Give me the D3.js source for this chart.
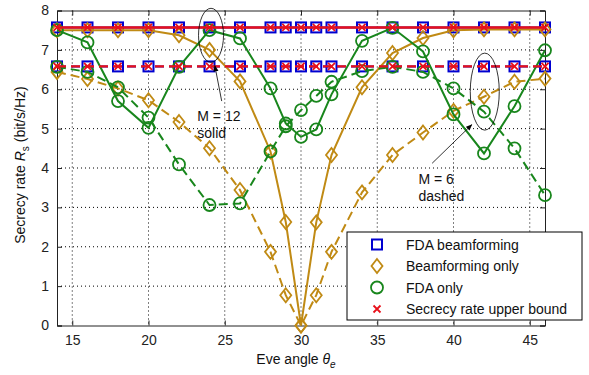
<!DOCTYPE html>
<html>
<head>
<meta charset="utf-8">
<script src="https://cdn.jsdelivr.net/npm/d3@7"></script>
<style>
  html, body { margin: 0; padding: 0; background: #fff; }
  svg { display: block; font-family: "Liberation Sans", Arial, sans-serif; }
</style>
</head>
<body>
<div id="chart"></div>
<script>
// Eve angle samples (degrees)
const theta = [14, 16, 18, 20, 22, 24, 26, 28, 29, 30, 31, 32, 34, 36, 38, 40, 42, 44, 46];

// M = 12 (solid) series
const fdaBeam12 = [7.57, 7.57, 7.57, 7.57, 7.57, 7.57, 7.57, 7.57, 7.57, 7.57, 7.57, 7.57, 7.57, 7.57, 7.57, 7.57, 7.57, 7.57, 7.57];
const bfOnly12 = [7.5, 7.5, 7.5, 7.5, 7.37, 7.0, 6.2, 4.42, 2.63, 0, 2.62, 4.33, 6.05, 6.92, 7.3, 7.5, 7.52, 7.52, 7.52];
const fdaOnly12 = [7.5, 7.19, 5.7, 5.02, 6.57, 7.5, 7.29, 6.02, 5.13, 4.79, 4.98, 5.87, 7.23, 7.56, 6.96, 5.36, 4.37, 5.57, 6.99];
const upper12 = [7.57, 7.57, 7.57, 7.57, 7.57, 7.57, 7.57, 7.57, 7.57, 7.57, 7.57, 7.57, 7.57, 7.57, 7.57, 7.57, 7.57, 7.57, 7.57];

// M = 6 (dashed) series
const fdaBeam6 = [6.58, 6.58, 6.58, 6.58, 6.58, 6.58, 6.58, 6.58, 6.58, 6.58, 6.58, 6.58, 6.58, 6.58, 6.58, 6.58, 6.58, 6.58, 6.58];
const bfOnly6 = [6.44, 6.26, 6.02, 5.72, 5.17, 4.5, 3.44, 1.87, 0.77, 0, 0.77, 1.87, 3.38, 4.33, 4.9, 5.45, 5.81, 6.19, 6.27];
const fdaOnly6 = [6.57, 6.44, 6.05, 5.28, 4.09, 3.06, 3.1, 4.42, 5.06, 5.47, 5.83, 6.19, 6.46, 6.57, 6.44, 6.02, 5.43, 4.5, 3.31];
const upper6 = [6.58, 6.58, 6.58, 6.58, 6.58, 6.58, 6.58, 6.58, 6.58, 6.58, 6.58, 6.58, 6.58, 6.58, 6.58, 6.58, 6.58, 6.58, 6.58];

const xTicks = [15, 20, 25, 30, 35, 40, 45];
const yTicks = [0, 1, 2, 3, 4, 5, 6, 7, 8];
const legendLabels = ['FDA beamforming', 'Beamforming only', 'FDA only', 'Secrecy rate upper bound'];

const BLUE = '#0000d0', GOLD = '#c08a14', GREEN = '#18861c', RED = '#e8101a';

const W = 589, H = 375;
const margin = { top: 10.5, right: 44, bottom: 49.5, left: 57 };
const width = W - margin.left - margin.right;
const height = H - margin.top - margin.bottom;

const svg = d3.select('#chart').append('svg').attr('width', W).attr('height', H);
const g = svg.append('g').attr('transform', `translate(${margin.left},${margin.top})`);

const x = d3.scaleLinear().domain([14, 46]).range([0, width]);
const y = d3.scaleLinear().domain([0, 8]).range([height, 0]);

// dotted grid
g.append('g').selectAll('line').data(xTicks).join('line')
  .attr('x1', d => x(d)).attr('x2', d => x(d)).attr('y1', 0).attr('y2', height)
  .attr('stroke', '#000').attr('stroke-width', 1).attr('stroke-dasharray', '1,3');
g.append('g').selectAll('line').data(yTicks.filter(d => d > 0 && d < 8)).join('line')
  .attr('x1', 0).attr('x2', width).attr('y1', d => y(d)).attr('y2', d => y(d))
  .attr('stroke', '#000').attr('stroke-width', 1).attr('stroke-dasharray', '1,3');

// axes (ticks pointing inward)
const xAxis = g.append('g').attr('transform', `translate(0,${height})`)
  .call(d3.axisBottom(x).tickValues(xTicks).tickSize(-5).tickPadding(10));
const yAxis = g.append('g')
  .call(d3.axisLeft(y).tickValues(yTicks).tickSize(-5).tickPadding(8));
const xTop = g.append('g').call(d3.axisTop(x).tickValues(xTicks).tickSize(-5).tickFormat(''));
const yRight = g.append('g').attr('transform', `translate(${width},0)`)
  .call(d3.axisRight(y).tickValues(yTicks).tickSize(-5).tickFormat(''));
[xAxis, yAxis, xTop, yRight].forEach(a => {
  a.select('.domain').attr('stroke', '#222').attr('stroke-width', 1);
  a.selectAll('.tick line').attr('stroke', '#222');
  a.selectAll('text').attr('fill', '#222').style('font-size', '14px');
});

const line = d3.line().x(d => x(d[0])).y(d => y(d[1]));
const pts = vals => theta.map((t, i) => [t, vals[i]]);

function drawSeries(vals, color, dashed, marker, lw = 2) {
  const data = pts(vals);
  g.append('path').datum(data).attr('d', line)
    .attr('fill', 'none').attr('stroke', color).attr('stroke-width', lw)
    .attr('stroke-dasharray', dashed ? '9,5' : null);
  drawMarkers(g, data.map(d => [x(d[0]), y(d[1])]), color, marker);
}

function drawMarkers(parent, coords, color, marker) {
  const sel = parent.append('g');
  coords.forEach(([cx, cy]) => {
    if (marker === 'square') {
      sel.append('rect').attr('x', cx - 5).attr('y', cy - 5).attr('width', 10).attr('height', 10)
        .attr('fill', 'none').attr('stroke', color).attr('stroke-width', 2);
    } else if (marker === 'diamond') {
      sel.append('path').attr('d', `M${cx},${cy - 7}L${cx + 5.5},${cy}L${cx},${cy + 7}L${cx - 5.5},${cy}Z`)
        .attr('fill', 'none').attr('stroke', color).attr('stroke-width', 1.8);
    } else if (marker === 'circle') {
      sel.append('circle').attr('cx', cx).attr('cy', cy).attr('r', 6)
        .attr('fill', 'none').attr('stroke', color).attr('stroke-width', 1.8);
    } else if (marker === 'cross') {
      sel.append('path').attr('d', `M${cx - 3.5},${cy - 3.5}L${cx + 3.5},${cy + 3.5}M${cx - 3.5},${cy + 3.5}L${cx + 3.5},${cy - 3.5}`)
        .attr('stroke', color).attr('stroke-width', 1.8);
    }
  });
}

drawSeries(fdaBeam12, BLUE, false, 'square');
drawSeries(fdaBeam6, BLUE, true, 'square');
drawSeries(bfOnly12, GOLD, false, 'diamond');
drawSeries(bfOnly6, GOLD, true, 'diamond');
drawSeries(fdaOnly12, GREEN, false, 'circle');
drawSeries(fdaOnly6, GREEN, true, 'circle');
drawSeries(upper12, RED, false, 'cross', 2.6);
drawSeries(upper6, RED, true, 'cross', 2.4);

// annotations
svg.append('defs').append('marker').attr('id', 'arr').attr('viewBox', '0 0 10 10')
  .attr('refX', 9).attr('refY', 5).attr('markerWidth', 8).attr('markerHeight', 8)
  .attr('orient', 'auto').append('path').attr('d', 'M0,1L10,5L0,9Z').attr('fill', '#000');

g.append('ellipse').attr('cx', x(24.1)).attr('cy', y(7.37)).attr('rx', 12.5).attr('ry', 27)
  .attr('fill', 'none').attr('stroke', '#000').attr('stroke-width', 0.8);
g.append('line').attr('x1', x(24.8)).attr('y1', y(5.7)).attr('x2', x(24.35)).attr('y2', y(6.6))
  .attr('stroke', '#000').attr('stroke-width', 0.8).attr('marker-end', 'url(#arr)');
g.append('text').attr('x', x(23.2)).attr('y', y(5.2)).style('font-size', '14px').attr('fill', '#111').text('M = 12');
g.append('text').attr('x', x(23.2)).attr('y', y(4.77)).style('font-size', '14px').attr('fill', '#111').text('solid');

g.append('ellipse').attr('cx', x(42.05)).attr('cy', y(5.94)).attr('rx', 14.5).attr('ry', 38.5)
  .attr('fill', 'none').attr('stroke', '#000').attr('stroke-width', 0.8);
g.append('line').attr('x1', x(38.6)).attr('y1', y(4.12)).attr('x2', x(41.2)).attr('y2', y(5.1))
  .attr('stroke', '#000').attr('stroke-width', 0.8).attr('marker-end', 'url(#arr)');
g.append('text').attr('x', x(37.7)).attr('y', y(3.6)).style('font-size', '14px').attr('fill', '#111').text('M = 6');
g.append('text').attr('x', x(37.7)).attr('y', y(3.15)).style('font-size', '14px').attr('fill', '#111').text('dashed');

// legend
const lg = svg.append('g').attr('transform', 'translate(347,232)');
lg.append('rect').attr('width', 235).attr('height', 88).attr('fill', '#fff').attr('stroke', '#000').attr('stroke-width', 1);
const legendMarkers = ['square', 'diamond', 'circle', 'cross'];
const legendColors = [BLUE, GOLD, GREEN, RED];
legendLabels.forEach((lab, i) => {
  const cy = 12.5 + i * 21.5;
  drawMarkers(lg, [[30, cy]], legendColors[i], legendMarkers[i]);
  lg.append('text').attr('x', 59).attr('y', cy + 5).style('font-size', '14px').attr('fill', '#111').text(lab);
});

// axis titles
const xt = svg.append('text').attr('x', 296).attr('y', 364).attr('text-anchor', 'middle')
  .style('font-size', '14px').attr('fill', '#111');
xt.append('tspan').text('Eve angle  ');
xt.append('tspan').style('font-style', 'italic').text('θ');
xt.append('tspan').attr('dy', 4).style('font-size', '10px').style('font-style', 'italic').text('e');

const yt = svg.append('text').attr('transform', 'translate(25,165) rotate(-90)').attr('text-anchor', 'middle')
  .style('font-size', '14px').attr('fill', '#111');
yt.append('tspan').text('Secrecy rate  ');
yt.append('tspan').style('font-style', 'italic').text('R');
yt.append('tspan').attr('dy', 4).style('font-size', '10px').text('s');
yt.append('tspan').attr('dy', -4).text(' (bit/s/Hz)');
</script>
</body>
</html>
